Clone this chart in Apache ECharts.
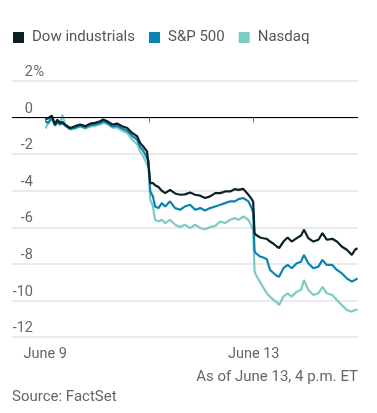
<!DOCTYPE html>
<html>
<head>
<meta charset="utf-8">
<script src="https://cdn.jsdelivr.net/npm/echarts@6/dist/echarts.min.js"></script>
<style>
  html, body { margin: 0; padding: 0; background: #fff; }
  #chart { width: 377px; height: 413px; }
</style>
</head>
<body>
<div id="chart"></div>
<script>
// trading minutes since the June 9 open (390 per session)
const timeMin = [
  2, 11, 25, 37, 45, 56, 64, 75, 93, 112, 131, 150, 168, 187, 206, 217, 232, 251, 269, 288, 307, 325, 344, 355, 366, 381, 387,
  393, 403, 411, 424, 436, 449, 467, 486, 505, 523, 542, 561, 580, 598, 617, 636, 655, 673, 692, 710, 723, 741, 748, 760, 772, 778,
  783, 788, 804, 816, 829, 841, 854, 866, 875, 891, 907, 922, 941, 957, 968, 984, 1003, 1022, 1037, 1053, 1074, 1091, 1109, 1128, 1147, 1159, 1168
]
const dow = [
  -0.07, -0.05, 0.11, -0.38, -0.12, -0.29, -0.25, -0.38, -0.57, -0.47, -0.38, -0.47, -0.33, -0.29, -0.2, -0.11, -0.2, -0.38, -0.33, -0.47, -0.57, -0.84, -1.02, -1.39, -1.57, -1.85, -1.94,
  -3.58, -3.58, -3.7, -3.8, -4.0, -4.13, -3.95, -4.15, -4.22, -4.2, -4.1, -4.22, -4.27, -4.4, -4.31, -4.13, -4.13, -4.04, -4.04, -3.91, -3.95, -3.9, -3.84, -4.22, -4.45, -4.6,
  -6.3, -6.41, -6.56, -6.6, -6.63, -6.78, -6.9, -7.05, -7.14, -6.78, -6.56, -6.78, -6.59, -6.45, -6.14, -6.59, -6.78, -6.68, -6.32, -6.68, -6.63, -6.78, -7.05, -7.23, -7.51, -7.23, -7.14
]
const sp500 = [
  -0.2, -0.3, 0.0, -0.45, -0.25, -0.38, -0.3, -0.45, -0.62, -0.55, -0.45, -0.55, -0.42, -0.38, -0.3, -0.2, -0.3, -0.48, -0.45, -0.6, -0.72, -1.0, -1.2, -1.6, -1.8, -2.2, -2.38,
  -4.03, -4.31, -4.86, -4.95, -4.68, -4.86, -4.58, -4.95, -5.04, -4.86, -4.77, -5.04, -4.95, -5.08, -4.95, -4.86, -4.77, -4.68, -4.58, -4.58, -4.46, -4.4, -4.45, -4.58, -4.95, -5.2,
  -7.3, -7.42, -7.6, -7.65, -7.75, -8.33, -8.5, -8.65, -8.7, -8.24, -8.06, -8.24, -7.97, -7.88, -7.51, -7.97, -8.24, -8.15, -7.78, -8.06, -8.06, -8.33, -8.51, -8.79, -8.97, -8.88, -8.79
]
const nasdaq = [
  -0.6, -0.3, -0.1, -0.35, -0.2, -0.3, 0.15, -0.4, -0.65, -0.6, -0.5, -0.6, -0.5, -0.45, -0.38, -0.28, -0.35, -0.55, -0.55, -0.72, -0.85, -1.2, -1.45, -1.85, -2.1, -2.55, -2.75,
  -4.49, -4.86, -5.59, -5.68, -5.59, -5.77, -5.59, -5.86, -5.99, -5.86, -6.05, -5.86, -6.05, -6.1, -5.99, -5.92, -5.68, -5.77, -5.59, -5.5, -5.59, -5.41, -5.45, -5.59, -5.95, -6.17,
  -8.4, -8.6, -9.0, -9.3, -9.6, -9.8, -9.97, -10.1, -10.25, -9.79, -9.61, -9.79, -9.52, -9.42, -8.88, -9.42, -9.7, -9.61, -9.25, -9.61, -9.7, -9.97, -10.25, -10.52, -10.61, -10.52, -10.5
]
const dayTicks = [0, 390, 780]
const dayLabels = { 0: 'June 9', 780: 'June 13' }
const seriesNames = ['Dow industrials', 'S&P 500', 'Nasdaq']
const yMax = 2

const font = 'Roboto, sans-serif'
const grey = '#666'

const pairs = (vals) => timeMin.map((t, i) => [t, vals[i]])

const chart = echarts.init(document.getElementById('chart'), null, { renderer: 'canvas' })
const option = {
  animation: false,
  textStyle: { fontFamily: font },
  legend: {
    data: seriesNames,
    left: 13, top: 30, padding: 0,
    icon: 'rect', itemWidth: 11, itemHeight: 11, itemGap: 14,
    textStyle: { fontSize: 15, color: '#555', fontFamily: font, padding: [0, 0, 0, 3] }
  },
  grid: { left: 12, right: 19, top: 81, bottom: 76 },
  xAxis: {
    type: 'value', min: -124, max: 1170,
    splitLine: { show: false },
    axisLine: { show: true, lineStyle: { color: '#e4e4e4', width: 1.5 } },
    axisTick: { show: true, customValues: dayTicks, length: 5, lineStyle: { color: '#777' } },
    axisLabel: {
      customValues: [0, 780], margin: 10, fontSize: 14.5, color: grey, fontFamily: font,
      formatter: v => dayLabels[v] || ''
    }
  },
  yAxis: {
    type: 'value', min: -12, max: yMax, interval: 2,
    axisLine: { show: false }, axisTick: { show: false },
    splitLine: { lineStyle: { color: '#e4e4e4', width: 1.5 } },
    axisLabel: {
      margin: -21, align: 'right', verticalAlign: 'bottom',
      padding: [0, 0, 1, 0], fontSize: 14.5, color: grey, fontFamily: font
    }
  },
  series: [
    { name: 'Nasdaq', type: 'line', data: pairs(nasdaq), showSymbol: false,
      color: '#7ecbc5', lineStyle: { width: 2.2 } },
    { name: 'S&P 500', type: 'line', data: pairs(sp500), showSymbol: false,
      color: '#0a83b0', lineStyle: { width: 2.2 } },
    { name: 'Dow industrials', type: 'line', data: pairs(dow), showSymbol: false,
      color: '#0b2126', lineStyle: { width: 2.2 },
      markLine: { silent: true, symbol: 'none', label: { show: false },
        lineStyle: { color: '#000', width: 1, type: 'solid' }, data: [{ yAxis: 0 }] } }
  ],
  graphic: [
    { id: 'asof', type: 'text', right: 19, top: 370,
      style: { text: 'As of June 13, 4 p.m. ET', fontSize: 15, fill: grey, fontFamily: font } },
    { id: 'source', type: 'text', left: 12, top: 390,
      style: { text: 'Source: FactSet', fontSize: 15, fill: grey, fontFamily: font } }
  ]
}
chart.setOption(option)

// percent sign hangs after the top tick label
const topY = chart.convertToPixel({ yAxisIndex: 0 }, yMax)
chart.setOption({
  graphic: [
    { id: 'pct', type: 'text', x: 33.5, y: topY - 1,
      style: { text: '%', fontSize: 14.5, fill: grey, fontFamily: font, align: 'left', verticalAlign: 'bottom' } }
  ]
})
</script>
</body>
</html>
